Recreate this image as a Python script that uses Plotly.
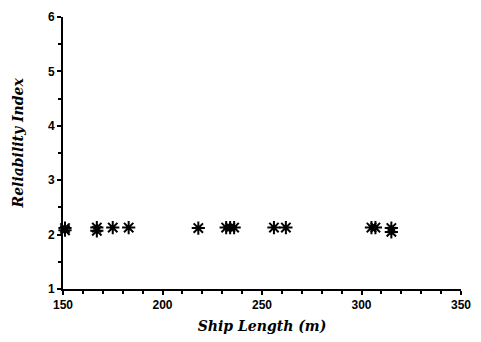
import plotly.graph_objects as go

ship_length = [151, 151, 167, 167, 175, 183, 218, 232, 234, 236, 256, 262, 305, 307, 315, 315]
reliability = [2.12, 2.08, 2.13, 2.07, 2.13, 2.13, 2.12, 2.13, 2.13, 2.13, 2.13, 2.13, 2.13, 2.13, 2.12, 2.05]

fig = go.Figure()
fig.add_trace(go.Scatter(
    x=ship_length, y=reliability, mode="markers",
    marker=dict(symbol="asterisk-open", size=11, color="black",
                line=dict(color="black", width=2)),
    cliponaxis=False, showlegend=False,
))

tickfont = dict(family="Liberation Sans", size=12, color="black")
titlefont = dict(family="DejaVu Serif", size=14, color="black")

fig.update_layout(
    width=481, height=342,
    margin=dict(l=63, r=17, t=10, b=53),
    plot_bgcolor="white", paper_bgcolor="white",
    xaxis=dict(
        range=[150, 350], tickvals=[150, 200, 250, 300, 350],
        ticktext=["<b>150</b>", "<b>200</b>", "<b>250</b>", "<b>300</b>", "<b>350</b>"],
        showgrid=False, zeroline=False, showline=True, linecolor="black", linewidth=2,
        ticks="outside", ticklen=4, tickwidth=1.5, tickcolor="black",
        minor=dict(dtick=10, ticks="outside", ticklen=3, tickwidth=1.5, tickcolor="black", showgrid=False),
        tickfont=tickfont,
        title=dict(text="<b><i>Ship Length (m)</i></b>", font=titlefont, standoff=10),
    ),
    yaxis=dict(
        range=[1, 6], tickvals=[1, 2, 3, 4, 5, 6],
        ticktext=["<b>1</b>", "<b>2</b>", "<b>3</b>", "<b>4</b>", "<b>5</b>", "<b>6</b>"],
        showgrid=False, zeroline=False, showline=True, linecolor="black", linewidth=2,
        ticks="outside", ticklen=4, tickwidth=1.5, tickcolor="black",
        minor=dict(dtick=0.5, ticks="outside", ticklen=3, tickwidth=1.5, tickcolor="black", showgrid=False),
        tickfont=tickfont,
    ),
    annotations=[dict(
        text="<b><i>Reliability Index</i></b>", font=titlefont, textangle=-90,
        xref="paper", yref="paper", x=-0.0, xshift=-45, y=0.535,
        xanchor="center", yanchor="middle", showarrow=False,
    )],
)

fig.write_html("out.html")
